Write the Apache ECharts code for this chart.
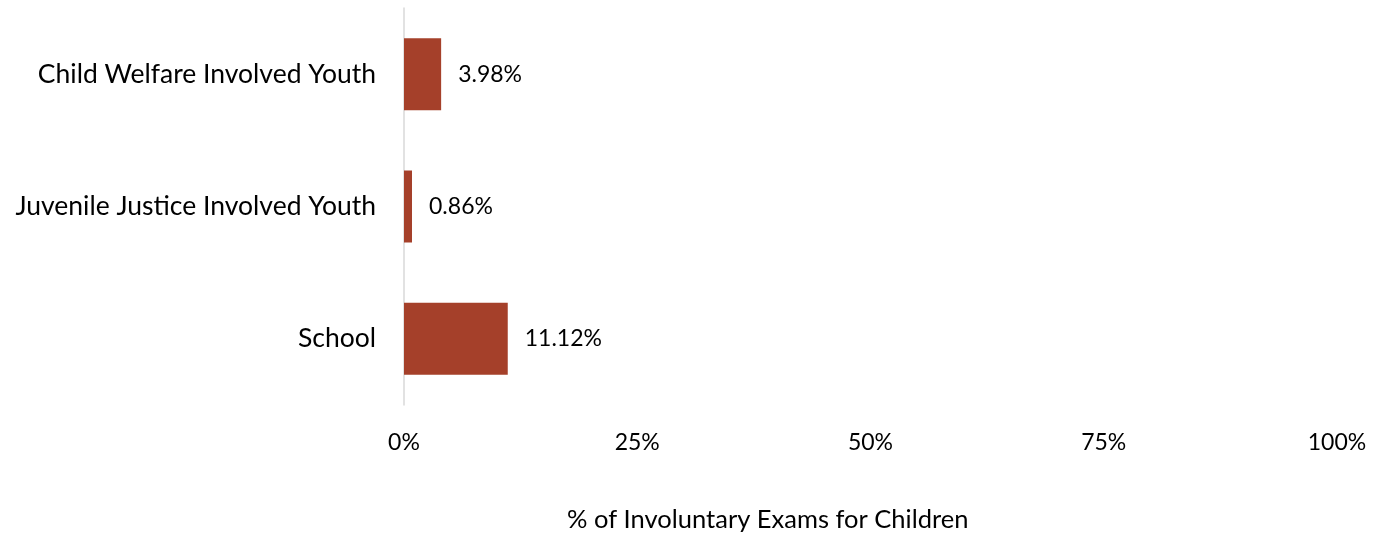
<!DOCTYPE html>
<html><head><meta charset="utf-8">
<script src="https://cdn.jsdelivr.net/npm/echarts@6/dist/echarts.min.js"></script>
<style>html,body{margin:0;padding:0;background:#fff}#c{width:1385px;height:537px}</style>
</head><body><div id="c"></div>
<script>
const categories = ["Child Welfare Involved Youth", "Juvenile Justice Involved Youth", "School"];
const values = [3.98, 0.86, 11.12];
const xTicks = [0, 25, 50, 75, 100];
const axisTitle = "% of Involuntary Exams for Children";

const FONT = "Lato, sans-serif";
const FS = 23;
const chart = echarts.init(document.getElementById('c'));
chart.setOption({
  animation: false,
  grid: { left: 404, right: 48, top: 8, bottom: 132, containLabel: false },
  xAxis: {
    type: 'value', min: 0, max: 100, interval: 25,
    axisLine: { show: false }, axisTick: { show: false }, splitLine: { show: false },
    axisLabel: { margin: 26, fontFamily: FONT, fontSize: FS, color: '#000', formatter: v => v + '%' }
  },
  yAxis: {
    type: 'category', data: categories, inverse: true,
    axisLine: { show: true, lineStyle: { color: '#d9d9d9', width: 1.5 } },
    axisTick: { show: false },
    axisLabel: { margin: 28, fontFamily: FONT, fontSize: 26.5, color: '#000' }
  },
  graphic: [{
    type: 'text', left: 567, top: 507,
    style: { text: axisTitle, font: "25.5px Lato, sans-serif", fill: '#000' }
  }],
  series: [{
    type: 'bar', data: values, barWidth: 72,
    itemStyle: { color: '#A5402A' },
    label: { show: true, position: 'right', distance: 17, fontFamily: FONT, fontSize: FS, color: '#000',
      formatter: p => p.value.toFixed(2) + '%' }
  }]
});
</script></body></html>
